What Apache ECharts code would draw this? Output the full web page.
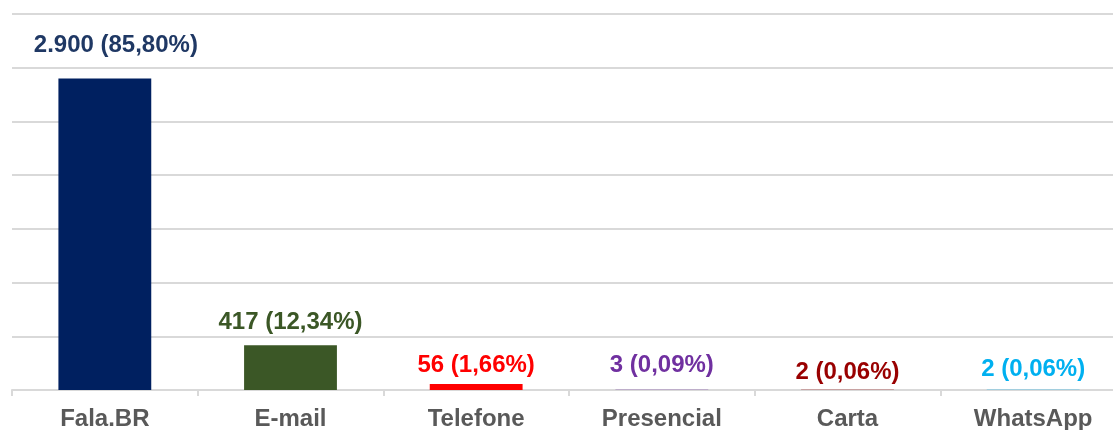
<!DOCTYPE html>
<html>
<head>
<meta charset="utf-8">
<script src="https://cdn.jsdelivr.net/npm/echarts@6/dist/echarts.min.js"></script>
<style>
	html, body { margin: 0; padding: 0; background: #fff; }
	#chart { width: 1113px; height: 430px; }
</style>
</head>
<body>
<div id="chart"></div>
<script>
var categories = ['Fala.BR', 'E-mail', 'Telefone', 'Presencial', 'Carta', 'WhatsApp'];
var values = [2900, 417, 56, 3, 2, 2];
var percents = ['85,80%', '12,34%', '1,66%', '0,09%', '0,06%', '0,06%'];
var barColors = ['#002060', '#3B5726', '#FF0000', '#7030A0', '#990000', '#00B0F0'];
var labelColors = ['#1F3864', '#3B5726', '#FF0000', '#7030A0', '#990000', '#00B0F0'];

/* label nudges, as placed by hand in the original */
var labelShift = [[11, -16], [0, -6], [0, -2], [0, -7], [0, 0], [0, -3]];

function fmt(n) {
	return String(n).replace(/\B(?=(\d{3})+(?!\d))/g, '.');
}

var chart = echarts.init(document.getElementById('chart'));

var seriesData = [];
for (var i = 0; i < values.length; i++) {
	seriesData.push({
		value: values[i],
		itemStyle: { color: barColors[i] },
		label: {
			color: labelColors[i],
			offset: labelShift[i],
			formatter: fmt(values[i]) + ' (' + percents[i] + ')'
		}
	});
}

chart.setOption({
	animation: false,
	backgroundColor: '#fff',
	// plot area runs a little past the right edge, as in the original
	grid: { left: 12, width: 1114, top: 14, bottom: 40, containLabel: false, outerBoundsMode: 'none' },
	xAxis: {
		type: 'category',
		data: categories,
		axisLine: { lineStyle: { color: '#d9d9d9', width: 2 } },
		axisTick: { show: true, length: 6, lineStyle: { color: '#d9d9d9', width: 2 } },
		axisLabel: {
			color: '#595959',
			fontFamily: 'Liberation Sans, Arial, sans-serif',
			fontWeight: 'bold',
			fontSize: 24,
			margin: 17
		}
	},
	yAxis: {
		type: 'value',
		min: 0,
		max: 3500,
		interval: 500,
		axisLine: { show: false },
		axisTick: { show: false },
		axisLabel: { show: false },
		splitLine: { lineStyle: { color: '#d9d9d9', width: 2 } }
	},
	series: [{
		type: 'bar',
		data: seriesData,
		barWidth: '50%',
		label: {
			show: true,
			position: 'top',
			fontFamily: 'Liberation Sans, Arial, sans-serif',
			fontWeight: 'bold',
			fontSize: 24
		}
	}]
});
</script>
</body>
</html>
